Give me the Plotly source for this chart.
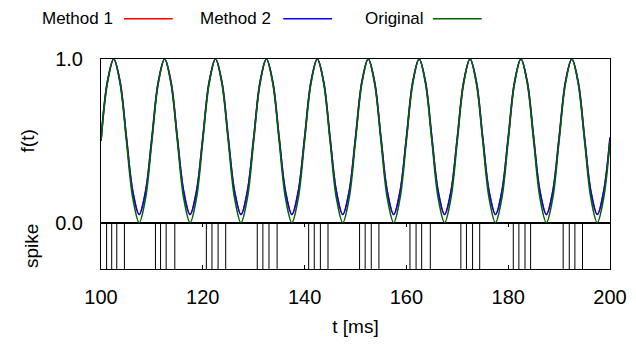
import plotly.graph_objects as go

# ---- data ----
t = [100.0, 101.25, 102.5, 103.75, 105.0, 106.25, 107.5, 108.75,
     110.0, 111.25, 112.5, 113.75, 115.0, 116.25, 117.5, 118.75,
     120.0, 121.25, 122.5, 123.75, 125.0, 126.25, 127.5, 128.75,
     130.0, 131.25, 132.5, 133.75, 135.0, 136.25, 137.5, 138.75,
     140.0, 141.25, 142.5, 143.75, 145.0, 146.25, 147.5, 148.75,
     150.0, 151.25, 152.5, 153.75, 155.0, 156.25, 157.5, 158.75,
     160.0, 161.25, 162.5, 163.75, 165.0, 166.25, 167.5, 168.75,
     170.0, 171.25, 172.5, 173.75, 175.0, 176.25, 177.5, 178.75,
     180.0, 181.25, 182.5, 183.75, 185.0, 186.25, 187.5, 188.75,
     190.0, 191.25, 192.5, 193.75, 195.0, 196.25, 197.5, 198.75,
     200.0]
original = [0.5, 0.85, 1.0, 0.85, 0.5, 0.15, 0.0, 0.15,
            0.5, 0.85, 1.0, 0.85, 0.5, 0.15, 0.0, 0.15,
            0.5, 0.85, 1.0, 0.85, 0.5, 0.15, 0.0, 0.15,
            0.5, 0.85, 1.0, 0.85, 0.5, 0.15, 0.0, 0.15,
            0.5, 0.85, 1.0, 0.85, 0.5, 0.15, 0.0, 0.15,
            0.5, 0.85, 1.0, 0.85, 0.5, 0.15, 0.0, 0.15,
            0.5, 0.85, 1.0, 0.85, 0.5, 0.15, 0.0, 0.15,
            0.5, 0.85, 1.0, 0.85, 0.5, 0.15, 0.0, 0.15,
            0.5, 0.85, 1.0, 0.85, 0.5, 0.15, 0.0, 0.15,
            0.5, 0.85, 1.0, 0.85, 0.5, 0.15, 0.0, 0.15,
            0.5]
method1 = [0.5, 0.86, 1.0, 0.86, 0.52, 0.19, 0.05, 0.19,
           0.52, 0.86, 1.0, 0.86, 0.52, 0.19, 0.05, 0.19,
           0.52, 0.86, 1.0, 0.86, 0.52, 0.19, 0.05, 0.19,
           0.52, 0.86, 1.0, 0.86, 0.52, 0.19, 0.05, 0.19,
           0.52, 0.86, 1.0, 0.86, 0.52, 0.19, 0.05, 0.19,
           0.52, 0.86, 1.0, 0.86, 0.52, 0.19, 0.05, 0.19,
           0.52, 0.86, 1.0, 0.86, 0.52, 0.19, 0.05, 0.19,
           0.52, 0.86, 1.0, 0.86, 0.52, 0.19, 0.05, 0.19,
           0.52, 0.86, 1.0, 0.86, 0.52, 0.19, 0.05, 0.19,
           0.52, 0.86, 1.0, 0.86, 0.52, 0.19, 0.05, 0.19,
           0.52]
method2 = [0.5, 0.86, 1.0, 0.86, 0.52, 0.19, 0.05, 0.19,
           0.52, 0.86, 1.0, 0.86, 0.52, 0.19, 0.05, 0.19,
           0.52, 0.86, 1.0, 0.86, 0.52, 0.19, 0.05, 0.19,
           0.52, 0.86, 1.0, 0.86, 0.52, 0.19, 0.05, 0.19,
           0.52, 0.86, 1.0, 0.86, 0.52, 0.19, 0.05, 0.19,
           0.52, 0.86, 1.0, 0.86, 0.52, 0.19, 0.05, 0.19,
           0.52, 0.86, 1.0, 0.86, 0.52, 0.19, 0.05, 0.19,
           0.52, 0.86, 1.0, 0.86, 0.52, 0.19, 0.05, 0.19,
           0.52, 0.86, 1.0, 0.86, 0.52, 0.19, 0.05, 0.19,
           0.52, 0.86, 1.0, 0.86, 0.52, 0.19, 0.05, 0.19,
           0.52]
spike_times = [101.1, 102.1, 103.1, 104.6,
               110.7, 111.7, 112.8, 114.5,
               120.7, 121.8, 123.0, 124.5,
               130.7, 131.8, 133.0, 134.6,
               140.8, 141.9, 143.1, 144.6,
               150.8, 151.9, 153.1, 154.6,
               160.7, 161.9, 163.0, 164.7,
               170.7, 171.8, 173.0, 174.4,
               181.0, 182.1, 183.3, 184.4,
               190.8, 192.0, 193.1, 194.6]
x_ticks = [100, 120, 140, 160, 180, 200]
y_ticks = [0.0, 1.0]
y_tick_labels = ["0.0", "1.0"]
series_names = ["Method 1", "Method 2", "Original"]
series_colors = ["#ff0000", "#0000ff", "#006400"]

FONT = "Liberation Sans, Arial, sans-serif"
TICK_SIZE = 20
TEXT_SIZE = 19

fig = go.Figure()
for name, ys, col in zip(series_names, [method1, method2, original], series_colors):
    fig.add_trace(go.Scatter(x=t, y=ys, mode="lines", name=name,
                             line=dict(color=col, width=1.6, shape="spline", smoothing=1.0),
                             xaxis="x2", yaxis="y", showlegend=False))

sx, sy = [], []
for s in spike_times:
    sx += [s, s, None]
    sy += [0, 1, None]
fig.add_trace(go.Scatter(x=sx, y=sy, mode="lines", line=dict(color="black", width=1),
                         xaxis="x", yaxis="y2", showlegend=False))

# legend drawn as text + line samples
leg_y = 1.192
leg_text_right = [0.025, 0.336, 0.637]
leg_line = [(0.045, 0.141), (0.358, 0.454), (0.652, 0.748)]
for name, col, xr, (x0, x1) in zip(series_names, series_colors, leg_text_right, leg_line):
    fig.add_annotation(x=xr, y=leg_y, xref="paper", yref="paper", text=name,
                       showarrow=False, xanchor="right", yanchor="middle", borderpad=0,
                       font=dict(size=17, color="black", family=FONT))
    fig.add_shape(type="line", x0=x0, x1=x1, y0=leg_y, y1=leg_y, xref="paper", yref="paper",
                  line=dict(color=col, width=1.5))

axis_common = dict(showline=True, linecolor="black", linewidth=1,
                   showgrid=False, zeroline=False, automargin=False)
fig.update_layout(
    width=628, height=346,
    margin=dict(l=93, r=26, t=51, b=85),
    paper_bgcolor="white", plot_bgcolor="white",
    font=dict(family=FONT, size=TICK_SIZE, color="black"),
    xaxis=dict(range=[100, 200], tickvals=x_ticks, ticks="inside", ticklen=4,
               tickcolor="black", anchor="y2", mirror="ticks", ticklabelstandoff=10,
               tickfont=dict(size=TICK_SIZE),
               title=dict(text="t [ms]", font=dict(size=TEXT_SIZE), standoff=12), **axis_common),
    xaxis2=dict(range=[100, 200], matches="x", showticklabels=False, ticks="",
                anchor="y", mirror=True, **axis_common),
    yaxis=dict(domain=[0.2205, 1], range=[0, 1], tickvals=y_ticks, ticktext=y_tick_labels,
               ticks="", mirror=True, ticklabelstandoff=13, tickfont=dict(size=TICK_SIZE),
               title=dict(text="f(t)", font=dict(size=TEXT_SIZE), standoff=15), **axis_common),
    yaxis2=dict(domain=[0, 0.2205], range=[0, 1], showticklabels=False, ticks="", mirror=True,
                title=dict(text="spike", font=dict(size=TEXT_SIZE), standoff=56), **axis_common),
)
fig.write_html("out.html")
